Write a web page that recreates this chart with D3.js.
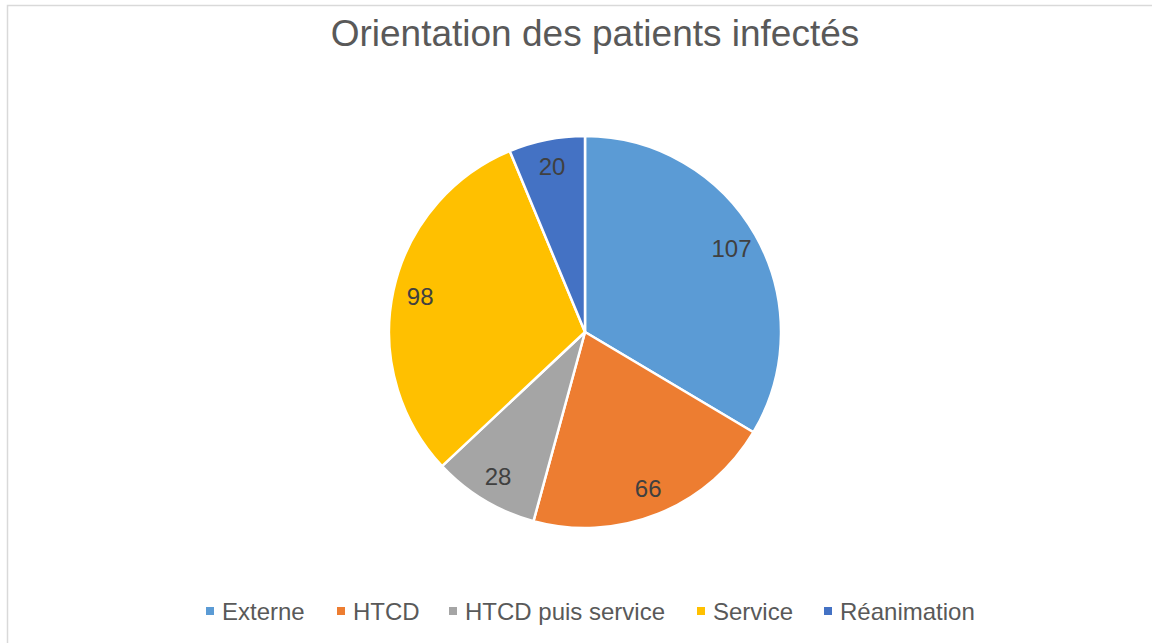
<!DOCTYPE html>
<html>
<head>
<meta charset="utf-8">
<script src="https://cdn.jsdelivr.net/npm/d3@7"></script>
<style>
  body { margin: 0; background: #fff; }
  svg { display: block; font-family: "Liberation Sans", Arial, sans-serif; }
</style>
</head>
<body>
<svg id="chart" width="1152" height="643"></svg>
<script>
const categories = ["Externe", "HTCD", "HTCD puis service", "Service", "Réanimation"];
const values = [107, 66, 28, 98, 20];
const colours = ["#5B9BD5", "#ED7D31", "#A5A5A5", "#FFC000", "#4472C4"];
const title = "Orientation des patients infectés";

const width = 1152, height = 643;
const cx = 585, cy = 332, radius = 196;

const svg = d3.select("#chart");

// chart frame
svg.append("rect")
    .attr("x", 7.5).attr("y", 5.5)
    .attr("width", width + 10).attr("height", height + 10)
    .attr("fill", "none")
    .attr("stroke", "#d9d9d9")
    .attr("stroke-width", 1.5);

svg.append("text")
    .attr("x", 595).attr("y", 46)
    .attr("text-anchor", "middle")
    .attr("font-size", 37)
    .attr("fill", "#595959")
    .text(title);

const data = categories.map((c, i) => ({ name: c, value: values[i], colour: colours[i] }));

const pie = d3.pie().value(d => d.value).sort(null);
const arc = d3.arc().innerRadius(0).outerRadius(radius);
const labelArc = d3.arc().innerRadius(radius * 0.86).outerRadius(radius * 0.86);

const g = svg.append("g").attr("transform", `translate(${cx}, ${cy})`);

const slices = g.selectAll("g.slice")
    .data(pie(data))
    .join("g")
    .attr("class", "slice");

slices.append("path")
    .attr("d", arc)
    .attr("fill", d => d.data.colour)
    .attr("stroke", "#fff")
    .attr("stroke-width", 2.5)
    .attr("stroke-linejoin", "round");

slices.append("text")
    .attr("transform", d => `translate(${labelArc.centroid(d)})`)
    .attr("text-anchor", "middle")
    .attr("dominant-baseline", "central")
    .attr("font-size", 24)
    .attr("fill", "#404040")
    .text(d => d.data.value);

// legend
const legendX = [206, 337, 449, 697, 824];
const legend = svg.append("g").attr("transform", "translate(0, 611)");
const items = legend.selectAll("g")
    .data(data)
    .join("g")
    .attr("transform", (d, i) => `translate(${legendX[i]}, 0)`);

items.append("rect")
    .attr("x", 0).attr("y", -4)
    .attr("width", 8).attr("height", 8)
    .attr("fill", d => d.colour);

items.append("text")
    .attr("x", 16)
    .attr("dominant-baseline", "central")
    .attr("font-size", 24)
    .attr("fill", "#595959")
    .text(d => d.name);
</script>
</body>
</html>
